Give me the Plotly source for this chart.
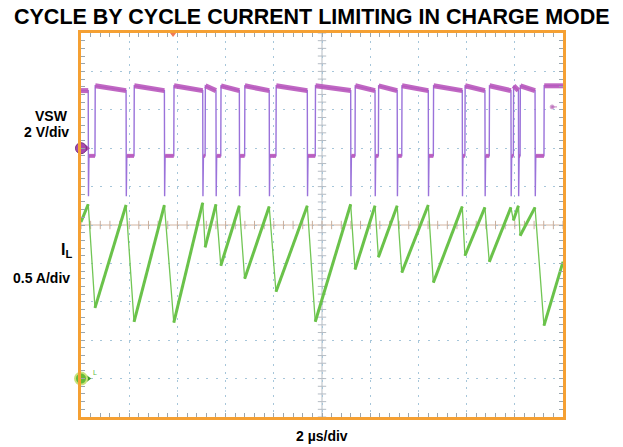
import plotly.graph_objects as go

# 开关断开时刻(电感电流峰值)与导通时刻(电流谷值), 单位 µs
SWITCH_OFF_US = [0.30, 1.87, 3.46, 5.05, 5.60, 6.57, 7.81, 9.39, 11.19, 12.20,
                 13.12, 14.41, 15.82, 16.76, 17.84, 18.15, 18.84]
IL_PEAK_A = [2.27, 2.26, 2.26, 2.29, 2.27, 2.25, 2.24, 2.25, 2.27, 2.25,
             2.25, 2.26, 2.24, 2.23, 2.23, 2.25, 2.23]
SWITCH_ON_US = [0.58, 2.20, 3.85, 5.15, 5.80, 6.79, 8.09, 9.72, 11.37, 12.34,
                13.31, 14.62, 15.93, 16.94, 17.94, 18.22, 19.21]
IL_VALLEY_A = [0.92, 0.74, 0.73, 1.71, 1.47, 1.30, 1.13, 0.74, 1.42, 1.58,
               1.38, 1.25, 1.60, 1.52, 2.06, 1.86, 0.69]
IL_START = (0.0, 2.04)
IL_END = (20.0, 1.52)

# VSW 电平 (V)
VSW_HIGH_START_V = 3.25
VSW_HIGH_END_V = 3.0
VSW_LOW_V = -0.4
VSW_SPIKE_V = -2.5

# 示波器设置
TIME_RANGE_US = [0, 20]
VSW_RANGE_V = [-14, 6]      # 2 V/div, 零点在第7格
IL_RANGE_A = [-0.5, 4.5]    # 0.5 A/div, 零点在第1格
TRIGGER_US = 3.82
TRIGGER_LEVEL_V = 2.15

W, H = 623, 447
L, R, T, B = 81, 60, 33, 30
PW, PH = W - L - R, H - T - B

FRAME = '#F5A033'
VSW_EDGE = '#9A72DA'
VSW_COLOR = '#BA58BD'
IL_COLOR = '#6AC24A'
FONT = 'Arial, Liberation Sans, sans-serif'


def px(x, y):
    return (x - L) / PW, (H - B - y) / PH


# ---- 电感电流波形 ----
il_t = [IL_START[0]]
il_v = [IL_START[1]]
for toff, pk, ton, vl in zip(SWITCH_OFF_US, IL_PEAK_A, SWITCH_ON_US, IL_VALLEY_A):
    il_t += [toff, ton]
    il_v += [pk, vl]
il_t.append(IL_END[0])
il_v.append(IL_END[1])

# 上升段加粗(噪声带)
rise_t, rise_v = [], []
for i in range(0, len(il_t) - 1, 2):
    rise_t += [il_t[i], il_t[i + 1], None]
    rise_v += [il_v[i], il_v[i + 1], None]

# ---- VSW 波形 ----
sw_t = [0.0]
sw_v = [VSW_HIGH_END_V]
hi_t, hi_v = [0.0], [VSW_HIGH_END_V]
lo_t, lo_v = [], []
for toff, ton in zip(SWITCH_OFF_US, SWITCH_ON_US):
    sw_t += [toff, toff + 0.01, toff + 0.03, ton, ton + 0.01]
    sw_v += [VSW_HIGH_END_V, VSW_SPIKE_V, VSW_LOW_V, VSW_LOW_V, VSW_HIGH_START_V]
    hi_t += [toff, None, ton + 0.01]
    hi_v += [VSW_HIGH_END_V, None, VSW_HIGH_START_V]
    lo_t += [toff + 0.03, ton, None]
    lo_v += [VSW_LOW_V, VSW_LOW_V, None]
sw_t.append(TIME_RANGE_US[1])
sw_v.append(VSW_HIGH_START_V)
hi_t.append(TIME_RANGE_US[1])
hi_v.append(VSW_HIGH_START_V)

fig = go.Figure()

# 中心十字线刻度
mid_t = sum(TIME_RANGE_US) / 2
mid_v = sum(VSW_RANGE_V) / 2
xt = [TIME_RANGE_US[0] + 0.4 * k for k in range(51)]
yt = [VSW_RANGE_V[0] + 0.4 * k for k in range(51)]
fig.add_trace(go.Scatter(x=xt, y=[mid_v] * len(xt), mode='markers',
                         marker=dict(symbol='line-ns', size=6, line=dict(width=1, color='#C9AE9C')),
                         hoverinfo='skip', showlegend=False))
fig.add_trace(go.Scatter(x=[mid_t] * len(yt), y=yt, mode='markers',
                         marker=dict(symbol='line-ew', size=6, line=dict(width=1, color='#B5BCC4')),
                         hoverinfo='skip', showlegend=False))

# VSW
fig.add_trace(go.Scatter(x=sw_t, y=sw_v, mode='lines', line=dict(color=VSW_EDGE, width=1.4),
                         hoverinfo='skip', showlegend=False))
fig.add_trace(go.Scatter(x=hi_t, y=hi_v, mode='lines', line=dict(color=VSW_COLOR, width=5),
                         opacity=0.9, hoverinfo='skip', showlegend=False))
fig.add_trace(go.Scatter(x=lo_t, y=lo_v, mode='lines', line=dict(color=VSW_COLOR, width=4),
                         opacity=0.9, hoverinfo='skip', showlegend=False))

# IL
fig.add_trace(go.Scatter(x=il_t, y=il_v, yaxis='y2', mode='lines',
                         line=dict(color='#72C655', width=1.3),
                         hoverinfo='skip', showlegend=False))
fig.add_trace(go.Scatter(x=rise_t, y=rise_v, yaxis='y2', mode='lines',
                         line=dict(color=IL_COLOR, width=3),
                         hoverinfo='skip', showlegend=False))

# 通道零点标记
fig.add_trace(go.Scatter(x=[0.25], y=[0], mode='markers', cliponaxis=False,
                         marker=dict(symbol='triangle-right', size=6, color='#A64AAE'),
                         hoverinfo='skip', showlegend=False))
fig.add_trace(go.Scatter(x=[0], y=[0], mode='markers', cliponaxis=False,
                         marker=dict(symbol='circle', size=11, color='#A64AAE',
                                     line=dict(color='#7A2F80', width=1)),
                         hoverinfo='skip', showlegend=False))
fig.add_trace(go.Scatter(x=[0.3], y=[0], yaxis='y2', mode='markers', cliponaxis=False,
                         marker=dict(symbol='triangle-right', size=6, color='#3F9A2A'),
                         hoverinfo='skip', showlegend=False))
fig.add_trace(go.Scatter(x=[0], y=[0], yaxis='y2', mode='markers', cliponaxis=False,
                         marker=dict(symbol='circle', size=12, color='#66BB3A',
                                     line=dict(color='#C8E27A', width=2)),
                         hoverinfo='skip', showlegend=False))
# 触发位置与电平
fig.add_trace(go.Scatter(x=[TRIGGER_US], y=[VSW_RANGE_V[1]], mode='markers', cliponaxis=False,
                         marker=dict(symbol='triangle-down', size=8, color='#F07A55'),
                         hoverinfo='skip', showlegend=False))
fig.add_trace(go.Scatter(x=[19.55, 19.75], y=[TRIGGER_LEVEL_V] * 2, mode='lines+markers',
                         marker=dict(symbol='circle', size=[4, 0], color='#B050B0'),
                         line=dict(color='#C080C0', width=1),
                         hoverinfo='skip', showlegend=False))

# 中心十字线
fig.add_shape(type='line', x0=mid_t, x1=mid_t, y0=VSW_RANGE_V[0], y1=VSW_RANGE_V[1],
              line=dict(color='#B5BCC4', width=1), layer='below')
fig.add_shape(type='line', x0=TIME_RANGE_US[0], x1=TIME_RANGE_US[1], y0=mid_v, y1=mid_v,
              line=dict(color='#D2B4A0', width=1), layer='below')

ann = [
    ('<b>CYCLE BY CYCLE CURRENT LIMITING IN CHARGE MODE</b>', 312, 17, 'center', 21.5, '#000'),
    ('<b>VSW</b>', 70, 116, 'right', 14, '#000'),
    ('<b>2 V/div</b>', 71, 132, 'right', 14, '#000'),
    ('<b>I<sub>L</sub></b>', 74, 250, 'right', 16, '#000'),
    ('<b>0.5 A/div</b>', 72, 278, 'right', 14, '#000'),
    ('<b>2 µs/div</b>', 322, 436, 'center', 14, '#000'),
    ('L', 95, 372, 'center', 7, '#5DBA3D'),
]
for text, x, y, anchor, size, color in ann:
    ax, ay = px(x, y)
    fig.add_annotation(text=text, x=ax, y=ay, xref='paper', yref='paper',
                       xanchor=anchor, yanchor='middle', showarrow=False,
                       font=dict(family=FONT, size=size, color=color))

fig.update_layout(
    width=W, height=H,
    margin=dict(l=L, r=R, t=T, b=B),
    paper_bgcolor='white', plot_bgcolor='white',
    xaxis=dict(range=TIME_RANGE_US, dtick=2, tick0=0, showticklabels=False,
               ticks='inside', ticklen=4, tickcolor='#9AA6AE',
               minor=dict(dtick=0.4, ticks='inside', ticklen=4, tickcolor='#9AA6AE'),
               showgrid=True, gridcolor='#A6C6DA', gridwidth=1, griddash='2px,5.7px',
               zeroline=False, showline=True, linecolor=FRAME, linewidth=2.5, mirror='ticks'),
    yaxis=dict(range=VSW_RANGE_V, dtick=2, tick0=VSW_RANGE_V[0], showticklabels=False,
               ticks='inside', ticklen=4, tickcolor='#9AA6AE',
               minor=dict(dtick=0.4, ticks='inside', ticklen=4, tickcolor='#9AA6AE'),
               showgrid=True, gridcolor='#A6C6DA', gridwidth=1, griddash='2px,7.64px',
               zeroline=False, showline=True, linecolor=FRAME, linewidth=2.5, mirror='ticks'),
    yaxis2=dict(range=IL_RANGE_A, overlaying='y', showgrid=False, zeroline=False,
                showticklabels=False, ticks='', showline=False),
    showlegend=False,
)

# 去掉页面默认的 body 边距, 让图表贴齐窗口左上角
fig.write_html("out.html", config={'displayModeBar': False},
               post_script="document.body.style.margin='0';")
